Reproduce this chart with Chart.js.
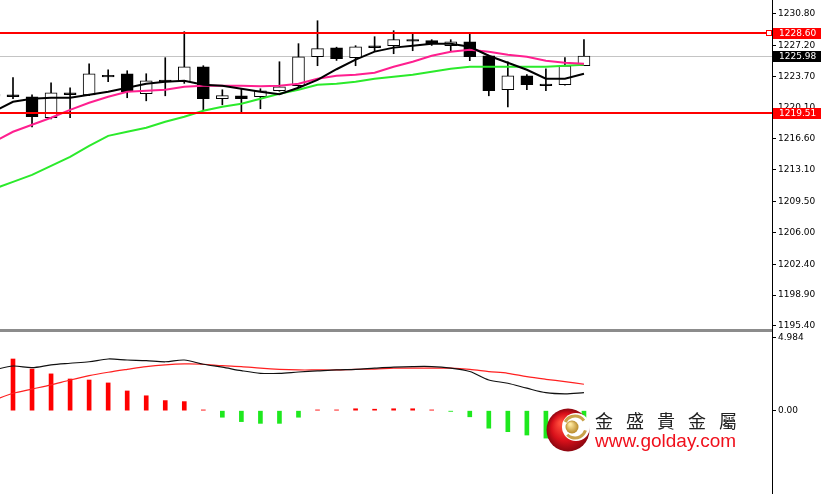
<!DOCTYPE html>
<html>
<head>
<meta charset="utf-8">
<script src="https://cdn.jsdelivr.net/npm/chart.js@4.4.1/dist/chart.umd.min.js"></script>
<style>
  html, body { margin: 0; padding: 0; background: #fff; }
  #wrap { position: relative; width: 822px; height: 494px; overflow: hidden; background: #fff; }
  #priceChart { position: absolute; left: 0; top: 0; }
  #macdChart { position: absolute; left: 0; top: 332px; }
  #sep { position: absolute; left: 0; top: 329px; width: 772px; height: 3px; background: #8c8c8c; }
  #axisLine { position: absolute; left: 772px; top: 0; width: 1px; height: 494px; background: #000; }
  #brandCn { position: absolute; left: 595px; top: 411px; font: 18px "Noto Sans CJK TC"; line-height: 18px; letter-spacing: 13px; color: #222; white-space: nowrap; }
  #brandUrl { position: absolute; left: 595px; top: 431px; font: 19px "Liberation Sans"; line-height: 19px; color: #f0101c; white-space: nowrap; }
</style>
</head>
<body>
<div id="wrap">
  <canvas id="priceChart" width="822" height="329"></canvas>
  <canvas id="macdChart" width="822" height="162"></canvas>
  <div id="sep"></div>
  <div id="axisLine"></div>
  <div id="brandCn">金盛貴金屬</div>
  <div id="brandUrl">www.golday.com</div>
</div>
<script>
document.addEventListener("DOMContentLoaded", function () {

    // bar slots (first one is cut off at the left edge)
    const slots = [-1, 0, 1, 2, 3, 4, 5, 6, 7, 8, 9, 10, 11, 12, 13, 14, 15,
        16, 17, 18, 19, 20, 21, 22, 23, 24, 25, 26, 27, 28, 29, 30];

    // candles
    const opens = [1221.45, 1221.4, 1221.38, 1219.0, 1221.62, 1221.6, 1223.82, 1223.99, 1221.72, 1223.06, 1223.08,
        1224.78, 1221.15, 1221.49, 1221.38, 1222.06, 1222.63, 1225.92, 1226.94, 1225.81, 1226.95, 1227.17,
        1227.86, 1227.74, 1227.17, 1227.62, 1226.03, 1222.17, 1223.76, 1222.83, 1222.74, 1224.9];
    const highs = [1221.9, 1223.55, 1221.6, 1222.97, 1222.4, 1225.12, 1224.44, 1224.33, 1223.99, 1225.81, 1228.76,
        1224.9, 1222.17, 1222.29, 1222.29, 1225.35, 1227.4, 1230.0, 1227.0, 1227.17, 1228.19, 1228.87,
        1228.64, 1227.85, 1227.85, 1228.53, 1226.1, 1225.35, 1223.9, 1224.56, 1225.81, 1227.85];
    const lows = [1221.2, 1221.15, 1217.97, 1218.88, 1219.0, 1221.5, 1223.08, 1221.27, 1220.92, 1221.49, 1222.9,
        1219.79, 1220.47, 1219.68, 1220.02, 1222.0, 1222.5, 1224.9, 1225.5, 1224.9, 1226.6, 1226.26,
        1226.6, 1227.2, 1226.49, 1225.47, 1221.49, 1220.24, 1222.17, 1222.06, 1222.7, 1224.9];
    const closes = [1221.65, 1221.6, 1219.11, 1221.83, 1221.82, 1223.99, 1223.62, 1221.95, 1223.2, 1223.26, 1224.78,
        1221.15, 1221.5, 1221.15, 1222.06, 1222.51, 1225.92, 1226.83, 1225.69, 1227.05, 1227.15, 1227.85,
        1227.68, 1227.4, 1227.62, 1225.92, 1222.06, 1223.76, 1222.74, 1222.65, 1224.9, 1225.98];

    // moving averages
    const maBlack = [1219.7, 1220.81, 1221.15, 1221.27, 1221.27, 1221.61, 1221.95, 1222.4, 1222.86, 1223.08, 1223.2,
        1222.74, 1222.63, 1222.29, 1221.95, 1221.67, 1222.4, 1223.3, 1224.5, 1225.6, 1226.5, 1226.95,
        1227.17, 1227.39, 1227.39, 1227.05, 1226.03, 1225.24, 1224.44, 1223.42, 1223.42, 1223.99];
    const maPink = [1216.27, 1217.41, 1218.2, 1219.0, 1219.9, 1220.7, 1221.38, 1221.95, 1222.06, 1222.17, 1222.51,
        1222.63, 1222.63, 1222.63, 1222.57, 1222.63, 1222.85, 1223.42, 1223.76, 1223.88, 1224.1, 1224.78,
        1225.35, 1226.03, 1226.49, 1226.71, 1226.49, 1226.15, 1225.92, 1225.47, 1225.24, 1225.12];
    const maGreen = [1210.94, 1211.73, 1212.53, 1213.55, 1214.57, 1215.82, 1216.95, 1217.41, 1217.86, 1218.54, 1219.11,
        1219.79, 1220.24, 1220.58, 1221.15, 1221.72, 1222.17, 1222.74, 1222.85, 1223.08, 1223.42, 1223.65,
        1223.88, 1224.22, 1224.56, 1224.78, 1224.78, 1224.78, 1224.78, 1224.78, 1224.9, 1225.01];

    // MACD panel
    const macdHist = [3.76, 3.54, 2.85, 2.52, 2.17, 2.1, 1.9, 1.35, 1.02, 0.69, 0.62, 0.05, -0.45, -0.75, -0.87, -0.87,
        -0.45, 0.05, 0.05, 0.13, 0.1, 0.13, 0.13, 0.05, -0.05, -0.42, -1.2, -1.44, -1.67, -1.88, -1.72, -1.46];
    const macdDif = [2.79, 3.06, 2.95, 3.14, 3.25, 3.35, 3.54, 3.47, 3.43, 3.35, 3.47, 3.18, 2.98, 2.74, 2.56, 2.56,
        2.65, 2.72, 2.79, 2.83, 2.91, 2.98, 3.02, 3.02, 2.91, 2.68, 2.1, 1.88, 1.54, 1.23, 1.15, 1.23];
    const macdDea = [0.73, 1.19, 1.48, 1.77, 2.1, 2.4, 2.63, 2.83, 3.02, 3.14, 3.2, 3.18, 3.08, 3.02, 2.91, 2.83,
        2.79, 2.79, 2.79, 2.83, 2.85, 2.91, 2.91, 2.91, 2.91, 2.83, 2.68, 2.56, 2.33, 2.15, 1.99, 1.81];

    // axis ticks and marked levels
    const priceTicks = [1230.80, 1227.20, 1223.70, 1220.10, 1216.60, 1213.10, 1209.50, 1206.00, 1202.40, 1198.90, 1195.40];
    const macdTicks = [4.984, 0];
    const macdTickLabels = ["4.984", "0.00"];
    const levelPrices = [1228.60, 1219.51];
    const lastPrice = 1225.98;

    const xRange = { min: -0.683, max: 39.88 };
    const axisFont = { family: "DejaVu Sans", size: 9 };

    const pts = arr => arr.map((v, i) => ({ x: slots[i], y: v }));

    function rightAxis(min, max, ticks, labelFn) {
        return {
            position: "right",
            min: min,
            max: max,
            afterBuildTicks: s => { s.ticks = ticks.map(v => ({ value: v })); },
            afterFit: s => { s.width = 50; s.paddingTop = 0; s.paddingBottom = 0; },
            grid: { drawOnChartArea: false, tickLength: 4, color: "#000", lineWidth: 1 },
            border: { display: false },
            ticks: { color: "#000", font: axisFont, padding: 2, callback: labelFn }
        };
    }

    // body colour: white for up candles, black for down candles and crosses
    function bodyColor(i) {
        if (Math.abs(closes[i] - opens[i]) < 0.25) return "#000000";
        return closes[i] > opens[i] ? "#ffffff" : "#000000";
    }

    // price levels, current price and the boxes on the axis
    const levelPlugin = {
        id: "levels",
        beforeDatasetsDraw(chart) {
            const { ctx, chartArea, scales } = chart;
            const py = Math.round(scales.y.getPixelForValue(lastPrice)) + 0.5;
            ctx.save();
            ctx.strokeStyle = "#c4c4c4";
            ctx.lineWidth = 1;
            ctx.beginPath();
            ctx.moveTo(chartArea.left, py);
            ctx.lineTo(chartArea.right, py);
            ctx.stroke();
            ctx.restore();
        },
        afterDatasetsDraw(chart) {
            const { ctx, chartArea, scales } = chart;
            ctx.save();
            ctx.strokeStyle = "#ff0000";
            ctx.lineWidth = 2;
            levelPrices.forEach(p => {
                const py = Math.round(scales.y.getPixelForValue(p));
                ctx.beginPath();
                ctx.moveTo(chartArea.left, py);
                ctx.lineTo(chartArea.right, py);
                ctx.stroke();
            });
            // small marker on the upper level
            const my = Math.round(scales.y.getPixelForValue(levelPrices[0]));
            ctx.lineWidth = 1;
            ctx.fillStyle = "#fff";
            ctx.fillRect(chartArea.right - 5, my - 2, 4, 4);
            ctx.strokeRect(chartArea.right - 5.5, my - 2.5, 5, 5);
            ctx.restore();
        },
        afterDraw(chart) {
            const { ctx, chartArea, scales } = chart;
            const boxes = [
                { v: levelPrices[0], bg: "#ff0000" },
                { v: levelPrices[1], bg: "#ff0000" },
                { v: lastPrice, bg: "#000000" }
            ];
            ctx.save();
            ctx.font = "9px 'DejaVu Sans'";
            ctx.textBaseline = "middle";
            boxes.forEach(b => {
                const py = Math.round(scales.y.getPixelForValue(b.v));
                ctx.fillStyle = b.bg;
                ctx.fillRect(chartArea.right + 1, py - 5, 48, 11);
                ctx.fillStyle = "#fff";
                ctx.fillText(b.v.toFixed(2), chartArea.right + 7, py + 0.5);
            });
            ctx.restore();
        }
    };

    new Chart(document.getElementById("priceChart").getContext("2d"), {
        type: "bar",
        data: {
            datasets: [
                {
                    type: "line", label: "MA black", data: pts(maBlack), order: 0,
                    borderColor: "#000", borderWidth: 2, pointRadius: 0, tension: 0
                },
                {
                    type: "line", label: "MA pink", data: pts(maPink), order: 0,
                    borderColor: "#ff1f8f", borderWidth: 2, pointRadius: 0, tension: 0
                },
                {
                    type: "line", label: "MA green", data: pts(maGreen), order: 0,
                    borderColor: "#2bea2b", borderWidth: 2, pointRadius: 0, tension: 0
                },
                {
                    label: "body", order: 1, grouped: false,
                    data: slots.map((s, i) => ({ x: s, y: [opens[i], closes[i]] })),
                    backgroundColor: slots.map((s, i) => bodyColor(i)),
                    borderColor: "#000", borderWidth: 1, borderSkipped: false, barThickness: 12
                },
                {
                    label: "wick", order: 2, grouped: false,
                    data: slots.map((s, i) => ({ x: s, y: [lows[i], highs[i]] })),
                    backgroundColor: "#000", barThickness: 1
                }
            ]
        },
        options: {
            responsive: false,
            animation: false,
            layout: { padding: 0 },
            plugins: { legend: { display: false }, tooltip: { enabled: false } },
            scales: {
                x: { type: "linear", display: false, offset: false, min: xRange.min, max: xRange.max },
                y: rightAxis(1195.05, 1232.35, priceTicks, v => v.toFixed(2))
            }
        },
        plugins: [levelPlugin]
    });

    // logo in the lower panel
    const logoPlugin = {
        id: "logo",
        afterDraw(chart) {
            const ctx = chart.ctx;
            const cx = 568, cy = 98, r = 21.5;
            ctx.save();
            const g = ctx.createRadialGradient(cx - 7, cy - 7, 2, cx, cy, r);
            g.addColorStop(0, "#ff4a3a");
            g.addColorStop(0.6, "#d8101a");
            g.addColorStop(1, "#8c0610");
            ctx.fillStyle = g;
            ctx.beginPath(); ctx.arc(cx, cy, r, 0, Math.PI * 2); ctx.fill();
            ctx.fillStyle = "#fff";
            ctx.beginPath(); ctx.arc(cx + 8, cy - 3, 14, 0, Math.PI * 2); ctx.fill();
            ctx.strokeStyle = "#c9a24a";
            ctx.lineWidth = 3;
            ctx.beginPath(); ctx.arc(cx + 7, cy - 3, 11, -Math.PI * 0.85, -Math.PI * 0.2); ctx.stroke();
            ctx.beginPath(); ctx.arc(cx + 7, cy - 3, 11, Math.PI * 0.1, Math.PI * 0.75); ctx.stroke();
            const gb = ctx.createRadialGradient(cx + 2, cy - 6, 1, cx + 4, cy - 3, 6.5);
            gb.addColorStop(0, "#ffe9a0");
            gb.addColorStop(1, "#b88a2a");
            ctx.fillStyle = gb;
            ctx.beginPath(); ctx.arc(cx + 4, cy - 3, 6.5, 0, Math.PI * 2); ctx.fill();
            ctx.restore();
        }
    };

    new Chart(document.getElementById("macdChart").getContext("2d"), {
        type: "bar",
        data: {
            datasets: [
                {
                    type: "line", label: "DIF", data: pts(macdDif), order: 0,
                    borderColor: "#111", borderWidth: 1.2, pointRadius: 0, tension: 0.3
                },
                {
                    type: "line", label: "DEA", data: pts(macdDea), order: 0,
                    borderColor: "#ff2020", borderWidth: 1.2, pointRadius: 0, tension: 0.3
                },
                {
                    label: "MACD", order: 1, grouped: false,
                    data: pts(macdHist),
                    backgroundColor: macdHist.map(v => v >= 0 ? "#ff0000" : "#1ee81e"),
                    barThickness: 4
                }
            ]
        },
        options: {
            responsive: false,
            animation: false,
            layout: { padding: 0 },
            plugins: { legend: { display: false }, tooltip: { enabled: false } },
            scales: {
                x: { type: "linear", display: false, offset: false, min: xRange.min, max: xRange.max },
                y: rightAxis(-5.71, 5.39, macdTicks, v => macdTickLabels[macdTicks.indexOf(v)] || "")
            }
        },
        plugins: [logoPlugin]
    });
});
</script>
</body>
</html>
